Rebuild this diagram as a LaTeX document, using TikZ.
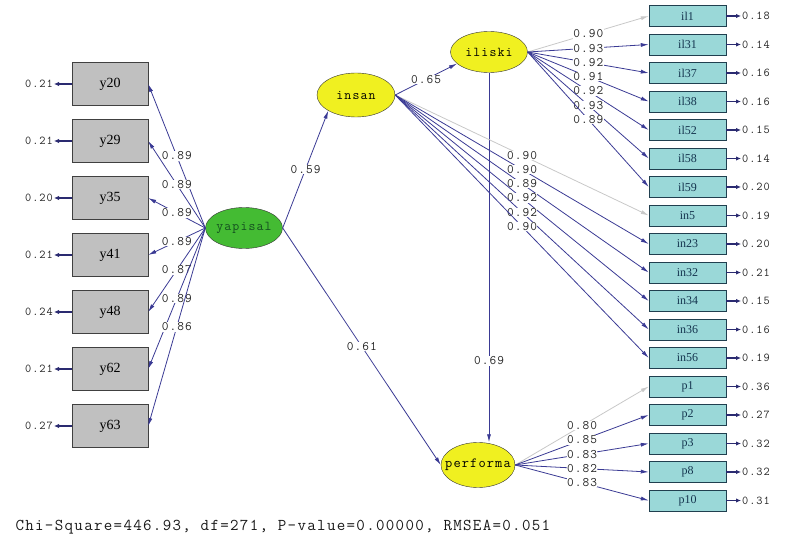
\documentclass[tikz,border=0pt]{standalone}
\usepackage{fontspec}
\setmainfont{Liberation Serif}
\setmonofont{Latin Modern Mono}[LetterSpace=8]
\usetikzlibrary{arrows.meta,shapes.geometric}

\definecolor{pathblue}{HTML}{3A3A94}
\definecolor{errblue}{HTML}{2A2A70}
\definecolor{fixgray}{HTML}{C8C8C8}
\definecolor{labgray}{HTML}{252525}
\definecolor{boxgray}{HTML}{C0C0C0}
\definecolor{boxedge}{HTML}{404040}
\definecolor{boxteal}{HTML}{9AD8D8}
\definecolor{tealedge}{HTML}{203F4F}
\definecolor{tealtext}{HTML}{15354F}
\definecolor{latyellow}{HTML}{F0F020}
\definecolor{latgreen}{HTML}{44BB33}
\definecolor{greentext}{HTML}{145020}

\newcommand{\latname}[1]{\makebox[0pt]{#1}}

\begin{document}
\begin{tikzpicture}[x=1pt,y=-1pt,
  obsbox/.style={draw=boxedge,fill=boxgray,minimum width=76pt,minimum height=43pt,inner sep=0pt,font=\fontsize{14}{14}\selectfont},
  indbox/.style={draw=tealedge,fill=boxteal,minimum width=77pt,minimum height=21pt,inner sep=0pt,text=tealtext,font=\fontsize{12}{12}\selectfont},
  latent/.style={ellipse,draw=black!80,inner sep=0pt,font=\ttfamily\fontsize{13.5}{13.5}\selectfont},
  load/.style={draw=pathblue,line width=0.8pt,-{Latex[length=8pt,width=4pt]}},
  fixed/.style={load,draw=fixgray},
  coef/.style={fill=white,inner sep=0.5pt,text=labgray,font=\ttfamily\fontsize{13}{13}\selectfont},
  errarr/.style={draw=errblue,line width=1.3pt,-{Latex[length=5pt,width=4.5pt]}},
  errlab/.style={inner sep=1pt,text=labgray,font=\ttfamily\fontsize{12}{12}\selectfont}]
\useasboundingbox (0,0) rectangle (804,540);

% latent variables
\node[latent,fill=latgreen,text=greentext,minimum width=77pt,minimum height=41pt] (yapisal) at (244,228) {\latname{yapisal}};
\node[latent,fill=latyellow,minimum width=78pt,minimum height=44pt] (insan) at (356,95) {\latname{insan}};
\node[latent,fill=latyellow,minimum width=77pt,minimum height=41pt] (iliski) at (489,52) {\latname{iliski}};
\node[latent,fill=latyellow,minimum width=74pt,minimum height=45pt,font=\ttfamily\fontsize{14}{14}\selectfont] (performa) at (478,465) {\latname{performa}};

% left indicators with errors
\foreach \n/\e [count=\i from 0] in {20/0.21,29/0.21,35/0.20,41/0.21,48/0.24,62/0.21,63/0.27}{
  \node[obsbox] (y\n) at (110,{84+57*\i}) {y\n};
  \node[errlab,anchor=east] (e\n) at (54,{84+57*\i}) {\e};
  \draw[errarr] (y\n.west) -- (e\n.east);
}

% right indicators with errors
\foreach \n/\e [count=\i from 0] in {il1/0.18,il31/0.14,il37/0.16,il38/0.16,il52/0.15,il58/0.14,il59/0.20,
    in5/0.19,in23/0.20,in32/0.21,in34/0.15,in36/0.16,in56/0.19,
    p1/0.36,p2/0.27,p3/0.32,p8/0.32,p10/0.31}{
  \node[indbox] (\n) at (687.5,{16+28.5*\i}) {\n};
  \node[errlab,anchor=west] (e\n) at (741,{16+28.5*\i}) {\e};
  \draw[errarr] (\n.east) -- (e\n.west);
}

% structural paths
\draw[load] (yapisal.east) -- (insan.south west) node[coef,pos=0.5] {0.59};
\draw[load] (yapisal.east) -- (performa.west) node[coef,pos=0.5] {0.61};
\draw[load] (insan.east) -- (iliski.200) node[coef,pos=0.5] {0.65};
\draw[load] (iliski.south) -- (iliski.south |- performa.north) node[coef,pos=0.78] {0.69};

% loadings
\foreach \n/\c in {20/0.89,29/0.89,35/0.89,41/0.89,48/0.87,62/0.89,63/0.86}
  \draw[load] (yapisal.west) -- (y\n.east) node[coef,pos=0.5] {\c};

\draw[fixed] (iliski.east) -- (il1.west) node[coef,pos=0.5] {0.90};
\foreach \n/\c in {il31/0.93,il37/0.92,il38/0.91,il52/0.92,il58/0.93,il59/0.89}
  \draw[load] (iliski.east) -- (\n.west) node[coef,pos=0.5] {\c};

\draw[fixed] (insan.east) -- (in5.west) node[coef,pos=0.5] {0.90};
\foreach \n/\c in {in23/0.90,in32/0.89,in34/0.92,in36/0.92,in56/0.90}
  \draw[load] (insan.east) -- (\n.west) node[coef,pos=0.5] {\c};

\draw[fixed] (performa.east) -- (p1.west) node[coef,pos=0.5] {0.80};
\foreach \n/\c in {p2/0.85,p3/0.83,p8/0.82,p10/0.83}
  \draw[load] (performa.east) -- (\n.west) node[coef,pos=0.5] {\c};

% fit statistics
\node[anchor=west,text=black!90,font=\ttfamily\fontsize{16.5}{16.5}\selectfont] (fit) at (12,527) {Chi-Square=446.93, df=271, P-value=0.00000, RMSEA=0.051};
\end{tikzpicture}
\end{document}
